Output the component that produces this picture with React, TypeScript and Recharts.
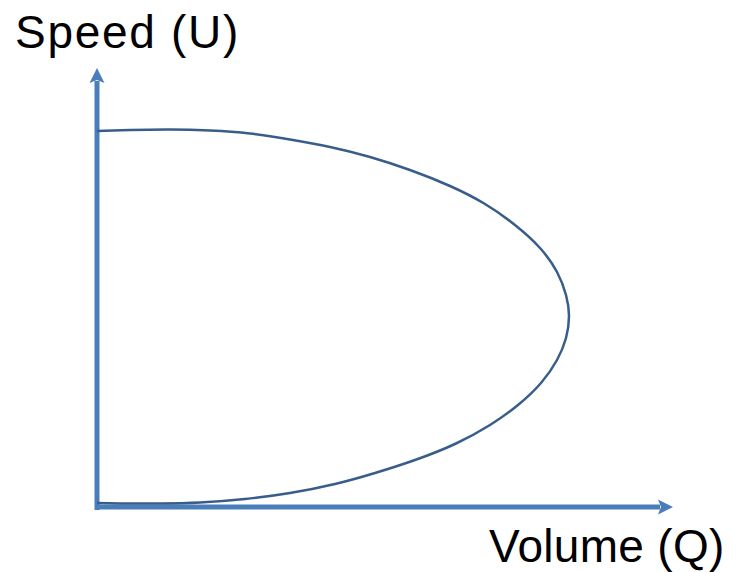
import { LineChart, Line, XAxis, YAxis, ReferenceLine } from 'recharts';

// speed-volume curve (arbitrary units)
const volume = [0, 33, 73, 113, 153, 193, 233, 273, 313, 353, 388, 418, 443, 460, 469, 472, 469, 460, 444, 421, 393, 358, 318, 278, 238, 193, 148, 103, 63, 23, 0];
const speed = [376, 377, 377.5, 376.5, 373.5, 367.5, 360, 350, 337, 321, 303, 282, 259, 235, 212, 191, 169, 147, 124, 102, 82, 63, 47, 34, 23, 14, 8, 4.5, 3.5, 3.5, 4];

const data = volume.map((q, i) => ({ q, u: speed[i] }));

const AXIS_BLUE = '#4a7ebb';
const CURVE_BLUE = '#385d8a';

const Arrow = (props: any) => {
  const { x1, y1, x2, y2 } = props;
  const dx = x2 - x1;
  const dy = y2 - y1;
  const len = Math.sqrt(dx * dx + dy * dy) || 1;
  const ux = dx / len;
  const uy = dy / len;
  const head = 15;
  const half = 7.5;
  const bx = x2 - ux * head;
  const by = y2 - uy * head;
  return (
    <g>
      <line x1={x1} y1={y1} x2={bx + ux * 2} y2={by + uy * 2} stroke={AXIS_BLUE} strokeWidth={5} />
      <polygon
        points={`${x2},${y2} ${bx - uy * half},${by + ux * half} ${bx + ux * 3},${by + uy * 3} ${bx + uy * half},${by - ux * half}`}
        fill={AXIS_BLUE}
      />
    </g>
  );
};

const labelStyle: React.CSSProperties = {
  position: 'absolute',
  fontFamily: 'Liberation Sans, Arial, sans-serif',
  fontSize: 46,
  color: '#000',
  lineHeight: 1,
  whiteSpace: 'nowrap',
};

export default function App() {
  return (
    <div style={{ position: 'absolute', left: 0, top: 0, width: 742, height: 572, background: '#fff' }}>
      <LineChart width={742} height={572} data={data} margin={{ top: 68, right: 69, bottom: 65, left: 97 }}>
        <XAxis type="number" dataKey="q" domain={[0, 576]} hide />
        <YAxis type="number" dataKey="u" domain={[0, 439]} hide />
        <ReferenceLine
          segment={[{ x: 0, y: -3 }, { x: 0, y: 439 }]}
          ifOverflow="visible"
          shape={Arrow}
        />
        <ReferenceLine
          segment={[{ x: 0.5, y: 0 }, { x: 576, y: 0 }]}
          ifOverflow="visible"
          shape={Arrow}
        />
        <Line
          dataKey="u"
          type="natural"
          stroke={CURVE_BLUE}
          strokeWidth={2.5}
          dot={false}
          isAnimationActive={false}
        />
      </LineChart>
      <div style={{ ...labelStyle, left: 15, top: 9, letterSpacing: 1.7 }}>Speed (U)</div>
      <div style={{ ...labelStyle, left: 489, top: 523, letterSpacing: 0.3 }}>Volume (Q)</div>
    </div>
  );
}
